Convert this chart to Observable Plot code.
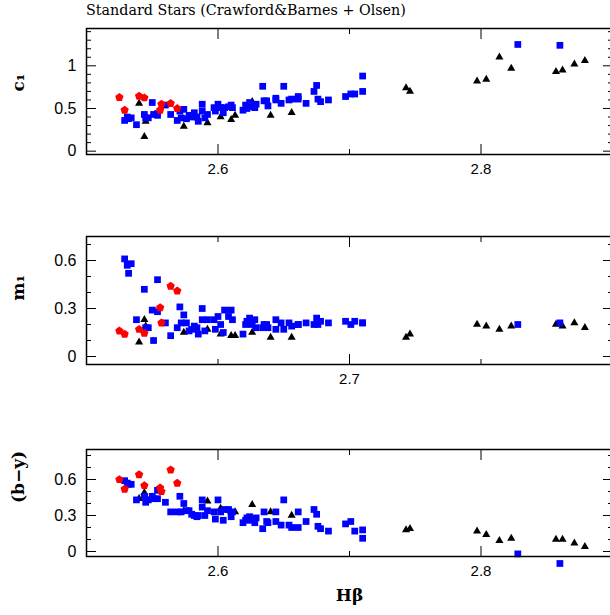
<!DOCTYPE html>
<html><head><meta charset="utf-8">
<script src="https://cdn.jsdelivr.net/npm/d3@7"></script>
<script src="https://cdn.jsdelivr.net/npm/@observablehq/plot@0.6"></script>
<style>
body{margin:0;background:#fff;overflow:hidden}
#wrap{position:relative;width:610px;height:615px;overflow:hidden;background:#fff}
#wrap svg{position:absolute;left:0}
#title{position:absolute;left:86px;top:2px;font-family:"DejaVu Serif",serif;font-size:14.3px;color:#000;white-space:nowrap}
</style></head>
<body><div id="wrap"><div id="title">Standard Stars (Crawford&amp;Barnes + Olsen)</div></div>
<script>
// ---- data: Olsen (blue squares) ----
const blueHb = [2.529,2.531,2.532,2.534,2.538,2.544,2.545,2.547,2.550,2.551,2.554,2.554,2.560,2.564,2.569,2.571,2.572,2.574,2.576,2.578,2.580,2.582,2.584,2.585,2.588,2.588,2.590,2.592,2.597,2.598,2.600,2.602,2.604,2.605,2.608,2.610,2.611,2.619,2.621,2.622,2.624,2.626,2.628,2.629,2.634,2.635,2.637,2.638,2.644,2.644,2.648,2.650,2.654,2.656,2.661,2.661,2.667,2.673,2.675,2.676,2.678,2.684,2.697,2.701,2.704,2.710,2.710,2.828,2.860];
const blueC1 = [0.36,0.40,0.38,0.39,0.31,0.43,0.39,0.39,0.57,0.43,0.42,0.44,0.54,0.43,0.36,0.47,0.39,0.49,0.38,0.42,0.40,0.45,0.40,0.35,0.55,0.47,0.39,0.43,0.51,0.47,0.55,0.51,0.45,0.51,0.52,0.54,0.51,0.48,0.54,0.50,0.57,0.52,0.51,0.55,0.76,0.59,0.59,0.53,0.62,0.60,0.56,0.76,0.60,0.61,0.64,0.61,0.56,0.70,0.77,0.61,0.58,0.60,0.64,0.67,0.67,0.88,0.70,1.25,1.24];
const blueM1 = [0.61,0.57,0.52,0.58,0.23,0.42,0.18,0.18,0.29,0.10,0.28,0.48,0.21,0.13,0.18,0.31,0.21,0.26,0.21,0.16,0.17,0.19,0.18,0.14,0.30,0.23,0.16,0.23,0.23,0.17,0.25,0.20,0.15,0.29,0.25,0.29,0.23,0.14,0.20,0.22,0.24,0.20,0.23,0.18,0.18,0.20,0.20,0.18,0.23,0.17,0.21,0.17,0.21,0.19,0.20,0.20,0.21,0.20,0.24,0.20,0.22,0.21,0.22,0.20,0.22,0.21,0.21,0.20,0.21];
const blueBy = [0.59,0.57,0.56,0.56,0.43,0.46,0.41,0.43,0.46,0.44,0.44,0.51,0.41,0.33,0.33,0.46,0.33,0.40,0.34,0.34,0.31,0.30,0.29,0.30,0.43,0.37,0.30,0.34,0.33,0.27,0.43,0.33,0.26,0.35,0.35,0.29,0.33,0.24,0.26,0.28,0.29,0.26,0.24,0.28,0.19,0.33,0.25,0.24,0.33,0.25,0.22,0.43,0.22,0.20,0.33,0.20,0.25,0.35,0.31,0.21,0.19,0.17,0.23,0.25,0.17,0.18,0.11,-0.02,-0.10];
// ---- data: Crawford & Barnes (black triangles) ----
const blackHb = [2.540,2.544,2.545,2.574,2.592,2.602,2.610,2.613,2.626,2.640,2.656,2.743,2.746,2.797,2.804,2.814,2.823,2.857,2.862,2.871,2.879];
const blackC1 = [0.56,0.17,0.35,0.29,0.33,0.40,0.37,0.42,0.58,0.42,0.45,0.74,0.70,0.82,0.84,1.10,0.97,0.93,0.95,1.02,1.06];
const blackM1 = [0.09,0.23,0.19,0.15,0.17,0.14,0.13,0.13,0.15,0.12,0.12,0.12,0.14,0.20,0.19,0.17,0.19,0.20,0.19,0.21,0.18];
const blackBy = [0.44,0.49,0.46,0.34,0.42,0.36,0.33,0.33,0.39,0.33,0.30,0.18,0.19,0.17,0.14,0.09,0.11,0.10,0.10,0.07,0.04];
// ---- data: red pentagons ----
const redHb = [2.525,2.529,2.540,2.544,2.556,2.557,2.564,2.569];
const redC1 = [0.63,0.48,0.645,0.625,0.48,0.55,0.56,0.50];
const redM1 = [0.16,0.14,0.17,0.145,0.305,0.21,0.44,0.41];
const redBy = [0.60,0.52,0.64,0.55,0.53,0.50,0.68,0.57];
// ---- ticks ----
const c1Labels = [0, 0.5, 1];
const c1Minor = [0.1,0.2,0.3,0.4,0.6,0.7,0.8,0.9,1.1,1.2,1.3,1.4];
const m1Labels = [0, 0.3, 0.6];
const m1Minor = [0.1,0.2,0.4,0.5,0.7];
const byLabels = [0, 0.3, 0.6];
const byMinor = [0.1,0.2,0.4,0.5,0.7,0.8];
const xLabelsOuter = [2.6, 2.8];
const xMinorOuter = [2.7];
const xLabelsMid = [2.7];
const xMinorMid = [2.6, 2.8];

const toRows = (hb, c1, m1, by) => hb.map((h, i) => ({hb: h, c1: c1[i], m1: m1[i], by: by[i]}));
const blue = toRows(blueHb, blueC1, blueM1, blueBy);
const black = toRows(blackHb, blackC1, blackM1, blackBy);
const red = toRows(redHb, redC1, redM1, redBy);

const pentagon = {draw(ctx, size) {
  const R = Math.sqrt(size / 2.378);
  for (let i = 0; i < 5; i++) {
    const a = -Math.PI / 2 + i * 2 * Math.PI / 5;
    const px = R * Math.cos(a), py = R * Math.sin(a);
    if (i) ctx.lineTo(px, py); else ctx.moveTo(px, py);
  }
  ctx.closePath();
}};

const wrap = document.getElementById("wrap");
const tickFont = "Liberation Sans, Arial, sans-serif";
const labFont = "DejaVu Serif, serif";

function panel({field, yDomain, yLabels, yMinor, xLabels, xMinor, top, height, mTop, mBottom, ylab, showXTitle}) {
  const marks = [
    Plot.dot(black, {x: "hb", y: field, symbol: "triangle", r: 3, fill: "black"}),
    Plot.dot(blue, {x: "hb", y: field, symbol: "square", r: 3.8, fill: "#0000ff"}),
    Plot.dot(red, {x: "hb", y: field, symbol: pentagon, r: 3.8, fill: "#ff0000"}),
    Plot.frame({stroke: "black", strokeWidth: 1.5}),
    Plot.axisX(xLabels, {anchor: "bottom", tickSize: -10, tickFormat: () => "", label: null}),
    Plot.axisX(xLabels, {anchor: "top", tickSize: -10, tickFormat: () => "", label: null}),
    Plot.axisX(xMinor, {anchor: "bottom", tickSize: -5, tickFormat: () => "", label: null}),
    Plot.axisX(xMinor, {anchor: "top", tickSize: -5, tickFormat: () => "", label: null}),
    Plot.axisY(yLabels, {anchor: "left", tickSize: -10, tickFormat: () => "", label: null}),
    Plot.axisY(yLabels, {anchor: "right", tickSize: -10, tickFormat: () => "", label: null}),
    Plot.axisY(yMinor, {anchor: "left", tickSize: -5, tickFormat: () => "", label: null}),
    Plot.axisY(yMinor, {anchor: "right", tickSize: -5, tickFormat: () => "", label: null}),
    Plot.axisX(xLabels, {anchor: "bottom", tickSize: 0, tickPadding: 9, label: null, fontSize: 15, fontFamily: tickFont, tickFormat: d => String(d)}),
    Plot.axisY(yLabels, {anchor: "left", tickSize: 0, tickPadding: 10, label: null, fontSize: 16, fontFamily: tickFont, tickFormat: d => String(d)}),
    Plot.text([ylab], {text: d => d, frameAnchor: "left", dx: -68, rotate: -90, fontSize: 17, fontWeight: "bold", fontFamily: labFont, fill: "black"})
  ];
  if (showXTitle) marks.push(Plot.text(["Hβ"], {text: d => d, frameAnchor: "bottom", dy: 44, fontSize: 17, fontWeight: "bold", fontFamily: labFont, fill: "black"}));
  const svg = Plot.plot({
    width: 612, height, marginLeft: 86, marginRight: 0, marginTop: mTop, marginBottom: mBottom,
    x: {domain: [2.5, 2.9]},
    y: {domain: yDomain},
    style: {background: "transparent", overflow: "visible", maxWidth: "none", fontFamily: tickFont, color: "black"},
    marks
  });
  svg.style.top = top + "px";
  wrap.appendChild(svg);
}

panel({field: "c1", yDomain: [-0.039, 1.437], yLabels: c1Labels, yMinor: c1Minor, xLabels: xLabelsOuter, xMinor: xMinorOuter, top: 20, height: 180, mTop: 8, mBottom: 46, ylab: "c₁"});
panel({field: "m1", yDomain: [-0.05, 0.75], yLabels: m1Labels, yMinor: m1Minor, xLabels: xLabelsMid, xMinor: xMinorMid, top: 210, height: 200, mTop: 26, mBottom: 46, ylab: "m₁"});
panel({field: "by", yDomain: [-0.0417, 0.85], yLabels: byLabels, yMinor: byMinor, xLabels: xLabelsOuter, xMinor: xMinorOuter, top: 420, height: 195, mTop: 29, mBottom: 59, ylab: "(b−y)", showXTitle: true});
</script>
</body></html>
